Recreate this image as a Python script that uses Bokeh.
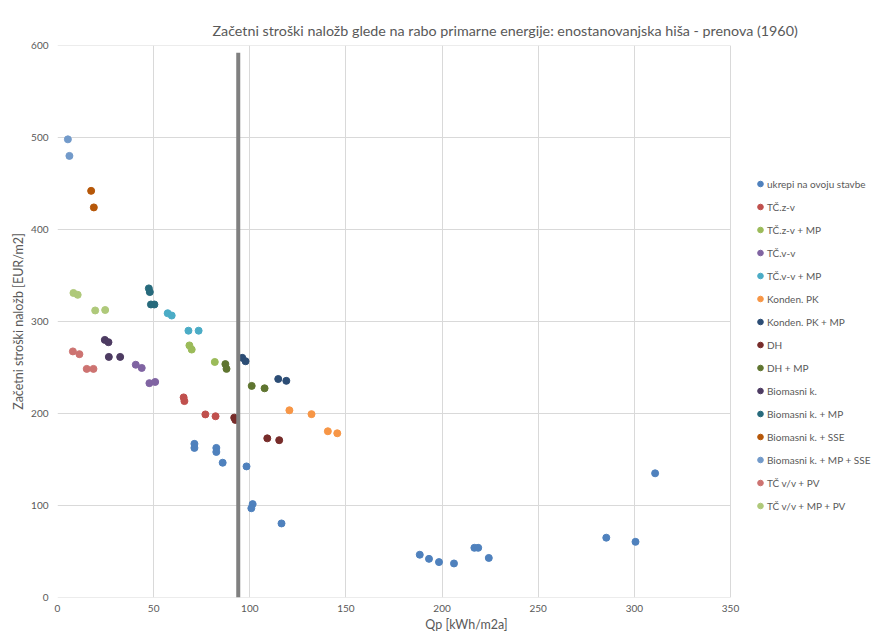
from bokeh.plotting import figure
from bokeh.models import Range1d, FixedTicker, Legend, LegendItem, ColumnDataSource
from bokeh.embed import file_html
from bokeh.resources import INLINE

# ---- data ----
series_names = [
    "ukrepi na ovoju stavbe", "TČ.z-v", "TČ.z-v + MP", "TČ.v-v", "TČ.v-v + MP",
    "Konden. PK", "Konden. PK + MP", "DH", "DH + MP", "Biomasni k.",
    "Biomasni k. + MP", "Biomasni k. + SSE", "Biomasni k. + MP + SSE",
    "TČ v/v + PV", "TČ v/v + MP + PV",
]
series_colors = [
    "#4F81BD", "#C0504D", "#9BBB59", "#8064A2", "#4BACC6",
    "#F79646", "#2C4D75", "#772C2A", "#5F7530", "#4D3B62",
    "#276A7C", "#B65708", "#729ACA", "#CD7371", "#AFC97A",
]

ukrepi_x = [71.2, 71.2, 82.6, 82.6, 85.9, 98.3, 101.5, 100.8, 116.5, 188.4, 193.2, 198.4, 206.2, 216.8, 218.8, 224.3, 285.4, 300.6, 310.8]
ukrepi_y = [167, 162.6, 162.6, 158.2, 146.5, 142.5, 101.5, 97, 80.5, 46.5, 42, 38.5, 37, 54, 54, 43, 65, 60.5, 135]
tczv_x = [65.6, 66.0, 76.9, 82.2]
tczv_y = [217.5, 213.5, 199, 197]
tczv_mp_x = [68.6, 69.8, 81.8]
tczv_mp_y = [274, 269.5, 256]
tcvv_x = [40.7, 43.8, 47.8, 50.8]
tcvv_y = [253, 249.5, 233, 234.3]
tcvv_mp_x = [57.3, 59.4, 68.1, 73.4]
tcvv_mp_y = [309, 306.5, 290, 290]
kpk_x = [120.6, 132.1, 140.6, 145.5]
kpk_y = [203.5, 199.3, 180.7, 178.5]
kpk_mp_x = [96.1, 97.8, 114.8, 119.0]
kpk_mp_y = [260.5, 256.8, 237.5, 235.5]
dh_x = [91.9, 92.5, 109.1, 115.3]
dh_y = [195.5, 193, 173, 171]
dh_mp_x = [87.3, 87.9, 101.0, 107.7]
dh_mp_y = [253.7, 248.5, 230, 227.4]
bio_x = [24.6, 26.5, 26.7, 32.6]
bio_y = [280, 277.5, 261.5, 261.5]
bio_mp_x = [47.5, 48.0, 48.6, 50.4]
bio_mp_y = [336, 332, 318.5, 318.5]
bio_sse_x = [17.5, 18.9]
bio_sse_y = [442, 424]
bio_mp_sse_x = [5.4, 6.2]
bio_mp_sse_y = [498, 480]
tcvv_pv_x = [8.0, 11.4, 15.2, 18.7]
tcvv_pv_y = [267.5, 264.5, 248.5, 248.5]
tcvv_mp_pv_x = [8.3, 10.5, 19.6, 24.8]
tcvv_mp_pv_y = [331, 329, 312, 312.5]

vline_x = [94, 94]
vline_y = [0, 592]

x_max = 350
y_max = 600
x_ticks = [0, 50, 100, 150, 200, 250, 300, 350]
y_ticks = [0, 100, 200, 300, 400, 500, 600]

series_x = [ukrepi_x, tczv_x, tczv_mp_x, tcvv_x, tcvv_mp_x, kpk_x, kpk_mp_x, dh_x,
            dh_mp_x, bio_x, bio_mp_x, bio_sse_x, bio_mp_sse_x, tcvv_pv_x, tcvv_mp_pv_x]
series_y = [ukrepi_y, tczv_y, tczv_mp_y, tcvv_y, tcvv_mp_y, kpk_y, kpk_mp_y, dh_y,
            dh_mp_y, bio_y, bio_mp_y, bio_sse_y, bio_mp_sse_y, tcvv_pv_y, tcvv_mp_pv_y]

TXT = "#595959"
FONT = "Lato"
GRID = "#D9D9D9"

# layout: plot area 673 px wide for 0..350; frame extended to the right edge
W, H = 875, 634
LEFT, TOP, BOTTOM = 57, 45, 37
PLOT_W = 673
frame_w = W - LEFT
x_end = x_max * frame_w / PLOT_W

p = figure(width=W, height=H, output_backend="svg", toolbar_location=None,
           x_range=Range1d(0, x_end), y_range=Range1d(0, y_max),
           min_border_left=LEFT, min_border_right=0, min_border_top=TOP, min_border_bottom=BOTTOM)

p.title.text = "Začetni stroški naložb glede na rabo primarne energije: enostanovanjska hiša - prenova (1960)"
p.title.align = "left"
p.title.offset = 155
p.title.text_font = "Lato"
p.title.text_font_size = "14.3px"
p.title.text_font_style = "normal"
p.title.text_color = TXT
p.title.vertical_align = "top"
p.title.standoff = 10

p.outline_line_color = None
p.background_fill_color = "white"
p.border_fill_color = "white"

p.xaxis.ticker = FixedTicker(ticks=x_ticks)
p.yaxis.ticker = FixedTicker(ticks=y_ticks)
for ax in (p.xaxis[0], p.yaxis[0]):
    ax.axis_line_color = None
    ax.major_tick_line_color = None
    ax.minor_tick_line_color = None
    ax.major_tick_out = 0
    ax.major_tick_in = 0
    ax.minor_tick_out = 0
    ax.minor_tick_in = 0
    ax.major_label_text_font = FONT
    ax.major_label_text_font_size = "10px"
    ax.major_label_text_color = TXT
    ax.axis_label_text_font = FONT
    ax.axis_label_text_font_size = "12.5px"
    ax.axis_label_text_font_style = "normal"
    ax.axis_label_text_color = TXT
p.xaxis.axis_label = "Qp [kWh/m2a]"
p.yaxis.axis_label = "Začetni stroški naložb [EUR/m2]"
p.xaxis.major_label_standoff = 7
p.yaxis.major_label_standoff = 9
p.xaxis.axis_label_standoff = 2
p.yaxis.axis_label_standoff = 2

p.xgrid.grid_line_color = GRID
p.ygrid.grid_line_color = None
# horizontal grid lines only across the plot area (0..x_max)
p.segment(x0=[0] * len(y_ticks), y0=y_ticks, x1=[x_max] * len(y_ticks), y1=y_ticks,
          line_color=GRID, line_width=1)

items = []
for name, color, xs, ys in zip(series_names, series_colors, series_x, series_y):
    src = ColumnDataSource(dict(x=xs, y=ys))
    r = p.scatter("x", "y", source=src, size=7, fill_color=color, line_color=color)
    items.append(LegendItem(label=name, renderers=[r]))

p.line(vline_x, vline_y, line_color="#808080", line_width=4)

legend = Legend(items=items, location=(696, 84), orientation="vertical",
                glyph_width=14, glyph_height=15, label_height=15, spacing=8,
                label_standoff=0, padding=0, margin=0,
                label_text_font=FONT, label_text_font_size="10px",
                label_text_color=TXT, border_line_color=None,
                background_fill_alpha=0)
p.add_layout(legend, "center")

open("out.html", "w").write(file_html(p, INLINE))
